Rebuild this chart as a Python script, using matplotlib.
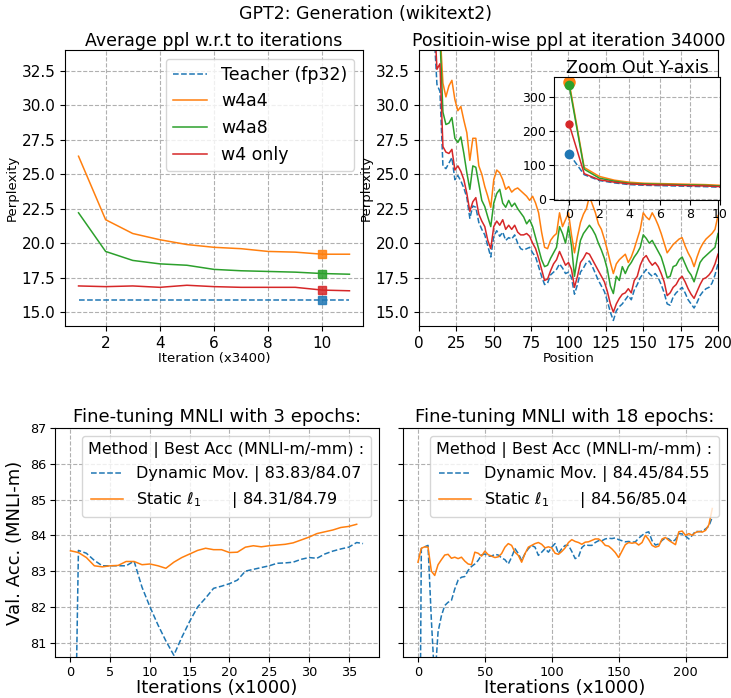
import matplotlib
matplotlib.use("Agg")
import matplotlib.pyplot as plt
import numpy as np

# ---- top left: average ppl vs iteration ----
iters = [1, 2, 3, 4, 5, 6, 7, 8, 9, 10, 11]
teacher_avg = [15.9] * 11
w4a4_avg = [26.3, 21.7, 20.7, 20.25, 19.9, 19.7, 19.6, 19.4, 19.35, 19.2, 19.2]
w4a8_avg = [22.2, 19.4, 18.75, 18.5, 18.4, 18.1, 18.0, 17.95, 17.9, 17.8, 17.75]
w4_avg = [16.9, 16.85, 16.9, 16.8, 16.95, 16.85, 16.8, 16.8, 16.8, 16.6, 16.55]
best_iter = 10

# ---- top right: position-wise ppl (positions 0..10, then every 2nd) ----
positions = list(range(0, 11)) + list(range(12, 201, 2))
teacher_pos = [133, 72, 55, 48, 43, 41, 40, 39, 38, 37, 35.5,
               31.5, 31.0, 25.6, 25.4, 25.8, 26.2, 24.6, 24.9, 24.5, 24.0,
               23.3, 21.8, 22.7, 22.6, 21.5, 21.0, 20.6, 19.8, 19.0, 20.5,
               20.9, 20.5, 20.8, 20.2, 20.4, 20.3, 20.6, 20.0, 19.6, 19.5,
               19.6, 19.7, 19.3, 19.0, 18.3, 17.6, 17.0, 17.1, 17.7, 17.9,
               18.1, 18.5, 18.2, 17.8, 17.9, 17.5, 16.3, 17.0, 17.9, 18.2,
               18.6, 18.7, 18.3, 17.8, 17.3, 16.9, 16.5, 15.8, 15.0, 14.4,
               15.1, 15.4, 15.6, 15.9, 16.2, 15.9, 16.6, 17.0, 17.5, 17.8,
               18.1, 17.8, 17.6, 17.8, 17.5, 17.0, 16.4, 15.6, 15.5, 16.1,
               16.4, 16.6, 16.8, 16.4, 15.9, 15.6, 15.3, 15.7, 16.2, 16.5,
               16.7, 16.8, 17.1, 17.7, 18.5]
w4_pos = [220, 75, 57, 50, 45, 43, 42, 41, 40, 39, 37,
          32.6, 33.0, 27.0, 26.6, 26.5, 26.8, 25.3, 25.6, 25.2, 24.6,
          23.6, 22.3, 23.0, 23.3, 22.1, 21.6, 21.2, 20.2, 19.6, 21.2,
          21.6, 21.3, 21.7, 21.0, 21.3, 21.0, 21.3, 20.8, 20.6, 20.6,
          20.7, 20.5, 20.0, 19.6, 18.9, 18.1, 17.3, 17.4, 18.0, 18.5,
          18.8, 19.4, 18.9, 18.4, 18.6, 18.1, 16.8, 17.6, 18.6, 18.9,
          19.3, 19.2, 18.8, 18.4, 18.0, 17.6, 17.2, 16.5, 15.6, 15.0,
          15.6, 16.0, 16.3, 16.4, 16.7, 16.4, 17.3, 17.6, 18.4, 18.9,
          19.1, 18.7, 18.4, 18.6, 18.3, 17.8, 17.2, 16.2, 16.4, 16.8,
          17.0, 17.4, 17.6, 17.2, 16.7, 16.3, 16.0, 16.5, 17.0, 17.4,
          17.5, 17.7, 18.0, 18.5, 19.2]
w4a8_pos = [335, 88, 62, 53, 47, 45, 44, 43, 42, 41, 39,
            36.0, 35.0, 29.5, 28.6, 28.7, 29.1, 27.6, 27.3, 27.7, 26.5,
            25.1, 23.9, 25.6, 25.5, 24.3, 23.1, 22.65, 21.9, 21.2, 22.9,
            23.6, 23.9, 22.9, 22.6, 23.1, 22.65, 22.9, 22.5, 22.2, 21.9,
            21.4, 21.7, 21.2, 20.4, 19.6, 18.8, 18.3, 18.4, 18.9, 19.3,
            19.7, 21.2, 20.7, 20.0, 21.2, 19.8, 17.6, 19.0, 20.2, 20.7,
            21.0, 21.3, 21.0, 20.6, 20.0, 19.5, 18.9, 18.1, 16.9, 16.35,
            17.6, 17.3, 18.3, 17.8, 18.3, 18.6, 19.0, 19.3, 19.7, 20.6,
            20.35, 20.0, 20.2, 19.8, 19.4, 19.0, 18.3, 17.5, 17.6, 18.3,
            18.4, 18.8, 19.0, 18.5, 18.0, 17.7, 17.2, 17.9, 18.6, 18.9,
            19.1, 19.3, 19.5, 19.7, 20.7]
w4a4_pos = [343, 93, 67, 56, 50, 47, 46, 45, 44, 43, 41,
            38.0, 35.5, 31.6, 30.6, 31.4, 31.8, 30.4, 29.6, 29.9, 28.9,
            28.0, 26.0, 27.6, 27.6, 25.6, 25.0, 24.1, 23.4, 22.6, 24.6,
            25.3, 25.1, 24.6, 23.9, 24.1, 23.7, 23.9, 24.0, 23.8, 23.6,
            23.4, 23.1, 23.4, 22.9, 22.2, 20.8, 19.7, 19.6, 20.2, 20.5,
            20.7, 22.2, 21.2, 21.7, 22.2, 20.6, 19.3, 20.5, 21.5, 22.1,
            22.5, 23.4, 22.8, 22.2, 21.4, 21.0, 20.3, 19.5, 18.6, 17.8,
            18.5, 18.8, 19.0, 19.2, 18.6, 19.0, 19.6, 20.3, 21.0, 22.2,
            21.9, 21.7, 22.2, 21.8, 21.3, 20.7, 20.0, 19.3, 19.6, 19.9,
            20.1, 20.3, 20.4, 19.8, 19.3, 18.9, 18.3, 19.0, 19.6, 20.0,
            20.3, 20.5, 20.7, 21.0, 22.0]

# ---- bottom left: MNLI 3 epochs ----
dyn3_x = list(range(0, 37)) + [36.8]
dyn3 = [70.0, 83.58, 83.5, 83.3, 83.15, 83.15, 83.15, 83.15, 83.28, 82.55,
        82.0, 81.5, 81.05, 80.65, 81.15, 81.6, 82.0, 82.25, 82.52, 82.58,
        82.65, 82.75, 83.0, 83.05, 83.1, 83.15, 83.22, 83.23, 83.25, 83.33,
        83.38, 83.36, 83.48, 83.56, 83.62, 83.67, 83.8, 83.77]
sta3_x = list(range(0, 37))
sta3 = [83.57, 83.52, 83.38, 83.15, 83.12, 83.15, 83.16, 83.27, 83.27, 83.18,
        83.2, 83.15, 83.08, 83.25, 83.38, 83.48, 83.58, 83.64, 83.6, 83.6,
        83.52, 83.53, 83.67, 83.71, 83.68, 83.71, 83.73, 83.75, 83.79, 83.87,
        83.95, 84.05, 84.1, 84.15, 84.22, 84.25, 84.31]

# ---- bottom right: MNLI 18 epochs (every 2.5k iterations) ----
dyn18 = [70.0, 83.63, 83.68, 83.72, 81.64, 79.9, 81.3, 81.75, 82.04, 82.13,
         82.18, 82.5, 82.75, 82.83, 82.85, 83.02, 83.13, 83.2, 83.3, 83.45,
         83.48, 83.42, 83.42, 83.47, 83.45, 83.37, 83.32, 83.2, 83.39, 83.63,
         83.49, 83.3, 83.49, 83.63, 83.72, 83.67, 83.44, 83.53, 83.63, 83.53,
         83.67, 83.77, 83.49, 83.63, 83.72, 83.72, 83.55, 83.35, 83.4, 83.66,
         83.74, 83.72, 83.72, 83.8, 83.85, 83.85, 83.9, 83.92, 83.91, 83.93,
         83.88, 83.85, 83.82, 83.83, 83.81, 83.82, 83.92, 84.0, 84.07, 84.1,
         83.85, 83.73, 83.76, 83.86, 83.93, 83.9, 83.82, 83.88, 84.05, 84.04,
         83.98, 83.9, 84.0, 84.12, 84.1, 84.12, 84.18, 84.26, 84.51]
sta18 = [83.25, 83.64, 83.68, 83.67, 83.0, 82.88, 83.18, 83.32, 83.45, 83.47,
         83.36, 83.39, 83.35, 83.39, 83.28, 83.2, 83.18, 83.53, 83.5, 83.42,
         83.56, 83.46, 83.42, 83.38, 83.4, 83.49, 83.67, 83.77, 83.72, 83.53,
         83.44, 83.25, 83.49, 83.67, 83.72, 83.77, 83.8, 83.75, 83.65, 83.68,
         83.65, 83.5, 83.47, 83.55, 83.65, 83.8, 83.88, 83.83, 83.8, 83.75,
         83.81, 83.82, 83.86, 83.9, 83.9, 83.83, 83.72, 83.7, 83.62, 83.52,
         83.38, 83.56, 83.74, 83.8, 83.78, 83.8, 83.73, 83.8, 84.0, 83.88,
         83.72, 83.67, 83.7, 83.9, 83.94, 83.86, 83.8, 83.74, 84.1, 84.12,
         84.0, 84.05, 84.0, 84.08, 84.11, 84.09, 84.14, 84.3, 84.75]
step18 = 2.5

GRID = dict(linestyle="--", color="#b0b0b0", linewidth=0.8)
LW = 1.1

fig = plt.figure(figsize=(7.31, 6.98), dpi=100)
fig.suptitle("GPT2: Generation (wikitext2)", fontsize=12.5, y=0.993)

# top left
ax1 = fig.add_axes([0.0889, 0.533, 0.4077, 0.3954])
ax1.plot(iters, teacher_avg, "--", color="C0", lw=LW, label="Teacher (fp32)")
ax1.plot(iters, w4a4_avg, color="C1", lw=LW, label="w4a4")
ax1.plot(iters, w4a8_avg, color="C2", lw=LW, label="w4a8")
ax1.plot(iters, w4_avg, color="C3", lw=LW, label="w4 only")
k = iters.index(best_iter)
for ys, c in [(teacher_avg, "C0"), (w4a4_avg, "C1"), (w4a8_avg, "C2"), (w4_avg, "C3")]:
    ax1.plot(best_iter, ys[k], "s", color=c, markersize=5.5, alpha=0.85)
ax1.set_ylim(14, 34)
ax1.set_yticks([15, 17.5, 20, 22.5, 25, 27.5, 30, 32.5])
ax1.grid(**GRID)
ax1.tick_params(labelsize=11)
ax1.set_xlabel("Iteration (x3400)", fontsize=9.5, labelpad=1)
ax1.set_ylabel("Perplexity", fontsize=9.5, labelpad=2)
ax1.set_title("Average ppl w.r.t to iterations", fontsize=12.5, pad=3)
ax1.legend(fontsize=12.5, loc="upper right")

# top right
ax2 = fig.add_axes([0.5732, 0.533, 0.409, 0.3954])
ax2.plot(positions, teacher_pos, "--", color="C0", lw=LW)
ax2.plot(positions, w4a4_pos, color="C1", lw=LW)
ax2.plot(positions, w4a8_pos, color="C2", lw=LW)
ax2.plot(positions, w4_pos, color="C3", lw=LW)
ax2.set_xlim(0, 200)
ax2.set_ylim(14, 34)
ax2.set_yticks([15, 17.5, 20, 22.5, 25, 27.5, 30, 32.5])
ax2.set_xticks(range(0, 201, 25))
ax2.grid(**GRID)
ax2.tick_params(labelsize=11)
ax2.set_xlabel("Position", fontsize=9.5, labelpad=1)
ax2.set_ylabel("Perplexity", fontsize=9.5, labelpad=2)
ax2.set_title("Positioin-wise ppl at iteration 34000", fontsize=12.5, pad=3)

# inset
ins = fig.add_axes([0.7579, 0.7135, 0.2271, 0.1762])
ins.plot(positions, teacher_pos, "--", color="C0", lw=LW)
ins.plot(positions, w4a4_pos, color="C1", lw=LW)
ins.plot(positions, w4a8_pos, color="C2", lw=LW)
ins.plot(positions, w4_pos, color="C3", lw=LW)
ins.plot(0, w4a4_pos[0], "o", color="C1", markersize=8)
ins.plot(0, w4a8_pos[0], "o", color="C2", markersize=6)
ins.plot(0, w4_pos[0], "o", color="C3", markersize=5)
ins.plot(0, teacher_pos[0], "o", color="C0", markersize=6)
ins.set_xlim(-1, 10)
ins.set_ylim(-2, 358)
ins.set_xticks(range(0, 11, 2))
ins.set_yticks([0, 100, 200, 300])
ins.grid(**GRID)
ins.tick_params(labelsize=9, pad=2)
ins.set_title("Zoom Out Y-axis", fontsize=12.5, pad=3)

# bottom left
ax3 = fig.add_axes([0.0752, 0.0587, 0.4432, 0.3281])
ax3.plot(dyn3_x, dyn3, "--", color="C0", lw=LW, label="Dynamic Mov. | 83.83/84.07")
ax3.plot(sta3_x, sta3, color="C1", lw=LW, label="Static $\\ell_1$      | 84.31/84.79")
ax3.set_xlim(-1.95, 38.8)
ax3.set_xticks(range(0, 36, 5))
ax3.set_ylim(80.6, 87)
ax3.grid(**GRID)
ax3.tick_params(labelsize=9.3, pad=2.8)
ax3.set_xlabel("Iterations (x1000)", fontsize=13, labelpad=0)
ax3.set_ylabel("Val. Acc. (MNLI-m)", fontsize=13)
ax3.set_title("Fine-tuning MNLI with 3 epochs:", fontsize=13, pad=4)
ax3.legend(title="Method | Best Acc (MNLI-m/-mm) :", fontsize=11.5,
           title_fontsize=11.5, loc="upper right")

# bottom right
ax4 = fig.add_axes([0.5513, 0.0587, 0.4432, 0.3281], sharey=ax3)
x18 = np.arange(len(dyn18)) * step18
ax4.plot(x18, dyn18, "--", color="C0", lw=LW, label="Dynamic Mov. | 84.45/84.55")
ax4.plot(x18, sta18, color="C1", lw=LW, label="Static $\\ell_1$      | 84.56/85.04")
ax4.set_xlim(-11.2, 231)
ax4.set_ylim(80.6, 87)
ax4.grid(**GRID)
ax4.tick_params(labelsize=9.3, pad=2.8, labelleft=False)
ax4.set_xlabel("Iterations (x1000)", fontsize=13, labelpad=0)
ax4.set_title("Fine-tuning MNLI with 18 epochs:", fontsize=13, pad=4)
ax4.legend(title="Method | Best Acc (MNLI-m/-mm) :", fontsize=11.5,
           title_fontsize=11.5, loc="upper right")

fig.savefig("out.png", dpi=100)
